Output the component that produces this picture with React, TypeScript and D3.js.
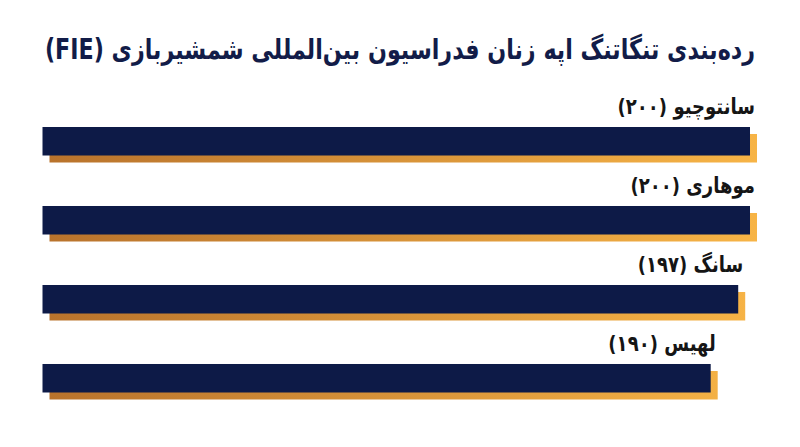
import React, { useLayoutEffect, useRef, useState } from "react";
import * as d3 from "d3";

const title = "رده‌بندی تنگاتنگ اپه زنان فدراسیون بین‌المللی شمشیربازی (FIE)";
const names = ["سانتوچیو", "موهاری", "سانگ", "لهیس"];
const values = [200, 200, 197, 190];
const valueLabels = ["۲۰۰", "۲۰۰", "۱۹۷", "۱۹۰"];

const W = 800;
const H = 447;

export default function App() {
  const titleRef = useRef<SVGTextElement>(null);
  const [ts, setTs] = useState(0.84);
  useLayoutEffect(() => {
    if (titleRef.current) {
      const len = titleRef.current.getComputedTextLength();
      if (len > 0) setTs(710 / len);
    }
  }, []);
  const x = d3.scaleLinear().domain([20, 200]).range([42.5, 750]);
  const y = d3
    .scaleBand<number>()
    .domain(d3.range(names.length))
    .range([127, 127 + 79 * 4 - 0.01])
    .paddingInner(0)
    .paddingOuter(0);
  const bh = 28.5;
  const off = 7;
  const font = "'DejaVu Sans', sans-serif";
  return (
    <div style={{ position: "absolute", left: 0, top: 0 }}>
      <svg width={W} height={H} style={{ display: "block", background: "#fff" }}>
        <defs>
          <linearGradient id="sh" gradientUnits="userSpaceOnUse" x1={x(20) + off} x2={x(200) + off} y1={0} y2={0}>
            <stop offset="0%" stopColor="#b9732c" />
            <stop offset="100%" stopColor="#f7b446" />
          </linearGradient>
        </defs>
        <text
          ref={titleRef}
          transform={`translate(755,59) scale(${ts},1)`}
          direction="rtl"
          textAnchor="start"
          fontFamily={font}
          fontWeight="bold"
          fontSize={28}
          fill="#121c48"
        >
          {title}
        </text>
        {names.map((n, i) => {
          const top = y(i) as number;
          return (
            <g key={i}>
              <rect x={x(20) + off} y={top + off} width={x(values[i]) - x(20)} height={bh} fill="url(#sh)" />
              <rect x={x(20)} y={top} width={x(values[i]) - x(20)} height={bh} fill="#0d1a47" />
              <text
                transform={`translate(${x(values[i]) + 5},${top - 13}) scale(0.82,1)`}
                direction="rtl"
                textAnchor="start"
                fontFamily={font}
                fontWeight="bold"
                fontSize={22}
                fill="#151515"
              >
                {`${n} (${valueLabels[i]})`}
              </text>
            </g>
          );
        })}
      </svg>
    </div>
  );
}
